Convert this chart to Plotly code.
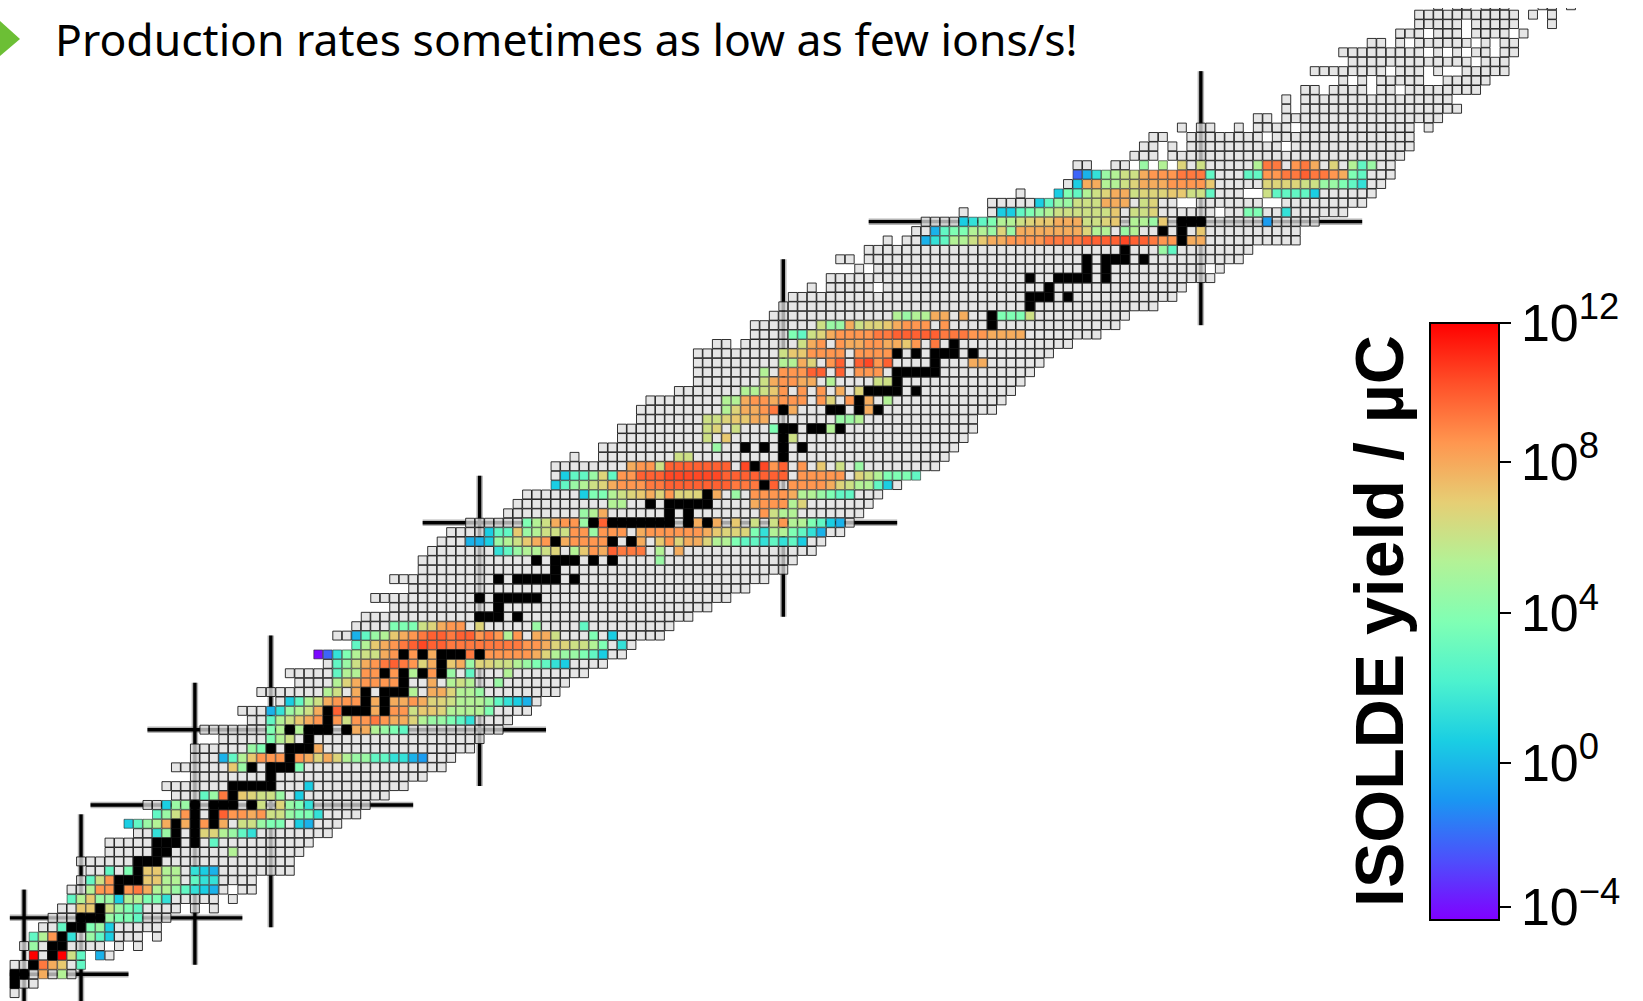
import plotly.graph_objects as go

W, H = 1643, 1001

# First and last neutron number N of each row, index = proton number Z (0..105)
FIRST_N = [1,1,1,1,3,2,3,4,5,6,7,7,8,9,8,11,11,14,13,16,15,18,17,20,18,20,20,23,21,26,25,29,27,31,30,34,33,37,35,37,38,41,39,43,41,44,44,45,46,47,49,53,54,55,58,58,58,60,63,65,65,67,67,68,71,73,73,73,73,75,79,79,81,82,83,85,87,90,88,91,93,96,97,101,104,107,112,113,113,119,120,121,124,132,135,135,137,141,138,142,141,144,147,149,149,151]
LAST_N = [1,3,7,8,11,14,16,16,17,22,24,26,26,30,30,31,32,34,35,37,38,40,42,44,46,47,49,50,52,53,55,56,58,59,61,63,65,66,69,70,72,74,76,78,80,82,83,85,86,88,89,90,91,92,94,96,98,99,100,101,102,102,104,105,106,107,108,109,110,112,115,117,118,121,123,124,127,128,130,131,136,136,138,141,143,144,145,146,146,147,148,148,150,151,153,152,155,156,158,158,159,159,160,163,163,165]

# log10(yield) per letter; '.' no yield (grey), '#' stable (black), ' ' no nuclide
YIELD_LEVEL = dict(v=-4.2, B=-2.2, b=-0.9, e=-0.25, c=0.55, d=1.4, m=2.85, n=3.8, g=4.65, y=5.46,
                   k=6.3, h=6.8, q=7.25, p=8.1, o=8.7, s=9.4, t=9.95, u=10.5, R=12)

# Z -> {first N of the run: letters}
MARKS = {
 1:{1:"#"}, 2:{1:"##.p.y."}, 3:{1:"..#spq.m"}, 4:{3:"R.#Rkm e."}, 5:{2:".g.##.... . ."},
 6:{3:"myo#d.gmc... ."}, 7:{4:"..m##ngc"}, 8:{5:"...###gnnm"}, 9:{6:"..qq#kgnm.... . ."},
 10:{7:"myqggcyynnd..... ."}, 11:{7:"..yoo#ospyygmdce. ."}, 12:{8:".mko###qqyy.mdd"},
 13:{9:"..m.n#qqyy.dce"}, 14:{14:"###"}, 15:{16:"##",24:"y"}, 16:{16:"###.#.m"},
 17:{14:"..dg#.#hhygmd"}, 18:{13:"cmgyp#p#o#p.kkgnn.ce"}, 19:{16:"mgko#.#toopokkgnnd"},
 20:{15:"..cgg#.###.#k.hgnd"}, 21:{18:"...mgs#qhkkg.c"}, 22:{24:"#####",32:"c"}, 23:{28:"#"},
 24:{24:"qg#.###n"}, 25:{23:"emyqooo#ophphyggmmddeb"}, 26:{26:"gn#.###p"}, 27:{28:"nyk.#"},
 28:{28:"ny#y###.#ppygnm"}, 29:{28:"mykqpo#okoosopphyggnmd"}, 30:{28:"edgykp#t###p#ookqqhyyyyn"},
 31:{30:"cmykpooo#p#ppophhkyyygmdce"}, 32:{34:"yk.p#.###y.pphyyg"}, 33:{35:"yhpoooo#..p.yky..g"},
 34:{35:"myyoo#o#y#o#g.m...y"}, 35:{35:"mgkpostsohp#qpghhkkygnmdc"},
 36:{33:"vBdnykkpo#o#p###s#ooooophyggnmc"}, 37:{37:"myqpostuttssssssssoophhkkyn.d."},
 38:{37:"emgyqposttsttosoyo.ppk...n.c"}, 39:{41:"nnnkhpoo.h",56:"g",61:"m"},
 40:{50:"###.#"}, 41:{52:"#"}, 42:{50:"#.#####"}, 44:{52:"#.#####.#"}, 45:{58:"#"},
 46:{56:"#.###.#.#",69:"g"}, 47:{52:"dmgyykh.yqoptsss.y.p"},
 48:{49:"eecgykqpo#poooo#.#p.qohpphyynmmdmdmc"},
 49:{51:"cmmqgykkkoogooo.poooooopqhhhndyynmde"},
 50:{55:"nykpoog#t#######.#p#p.q.k.koyynmce"},
 51:{61:"gyp",70:"#.#",80:"okyy"}, 52:{64:"yy..#.#####",79:"poooyh"},
 53:{61:"cnnykhqphohhh#p.g.oooopyygnmm"},
 54:{58:"cmgykhpoooss"+"ttttttt"+"sss#t.oooop"+"hkyymc"},
 55:{58:".cmmghmoo"+"ttt"+"uuuuuu"+"ttttttt"+".ooooo.hkynnnm"},
 56:{66:"pookttttttt.u#uot.o.q.k.g"}, 57:{61:"  ",71:"kk",82:"#"},
 58:{75:"g",78:"#.#.#.#"}, 59:{74:"k.q",82:"#k"}, 60:{74:"kh.k",81:"n##.##y#"},
 61:{74:"kkhqqpp",88:"ggy"}, 62:{76:"yhppos#p",87:"##.#p#"}, 63:{76:"yypoopooo.oh.o#p.y"},
 64:{78:"yykqo.o.o.p.h####.#"}, 65:{80:"kpoopp.y",92:"kk#"}, 66:{80:"y.ooott.t.ooo.#####"},
 67:{82:"yyph.ot.tuot",98:"#",102:"pp"}, 68:{82:"kqqoooo.oooo#.#.###.#"},
 69:{77:" ",84:"kpo.oppooppqo.s.#"}, 70:{83:"nmkhpoooosstttttsssoopppp"},
 71:{86:"kggpkhhqpooo.o",104:"#"}, 72:{94:"ygyypp.p..#nnnk"}, 73:{108:"#"}, 74:{108:"###.#"},
 75:{86:" ",92:" ",110:"#"}, 76:{108:"#..####.#"}, 77:{91:" ",114:"#",116:"#",127:" "},
 78:{90:" ",114:"#",116:"###.#"}, 79:{118:"#",122:"gm"},
 80:{94:" ",97:"edmyykqppoooossssttttuttsoo#pp"},
 81:{98:"emnnyyghgppppppphyy.gy..#.#.q"},
 82:{101:"cdmnyykhqqpppkkhq.yygq.###",133:"b"},
 83:{102:"  ",105:"ccmngykkkkkkq.kkh",128:" ",131:"nn",135:"d"},
 84:{109:"cmggkkkppp.kh",124:"  ",133:"  "},
 85:{108:"   ",111:"cnmykhppkhhhqqkkm",131:"  ",133:"kmmmmc"},
 86:{113:"cppyykhpppooooq",133:"hhhhkkggnmd"},
 87:{113:"Bedgykkpooosssm",131:"mmoosstssopnm"},
 88:{115:"  .. g y h.k",132:"yss.osp.h.ymg"},
 89:{122:" "}, 90:{122:" ",124:" ",135:" "}, 91:{123:"  ",133:" "},
 92:{125:" ",128:"  ",131:" ",136:" ",149:" "}, 93:{134:" "}, 94:{136:" "}, 95:{136:" "},
 96:{139:" ",144:" ",147:" "}, 97:{142:" ",144:" ",150:"  "}, 98:{146:" ",150:" ",152:"  "},
 99:{155:" "}, 100:{150:" ",152:" ",154:" ",157:" "}, 101:{146:" ",148:" ",155:" ",157:" "},
 102:{150:" ",154:" ",159:" "}, 103:{154:" ",160:"   "}, 104:{160:" ",162:" "},
 105:{152:" ",155:" ",159:"   ",164:" "},
}

# Magic numbers: line along the chart, (value, from, to)
MAGIC_N = [(2,-1,11),(8,-1,19),(20,3,33),(28,7,38),(50,22,55),(82,40,78),(126,71,98)]
MAGIC_Z = [(2,0.5,13),(8,0.5,25),(20,9,43),(28,15,57),(50,44,94),(82,91,143)]

CBAR_TICKS = [-4, -0.05, 4.05, 8.2, 12]
CBAR_LABELS = ["10<sup>\u22124</sup>", "10<sup>0</sup>", "10<sup>4</sup>", "10<sup>8</sup>", "10<sup>12</sup>"]
RAINBOW = [[0,"#8000ff"],[.1,"#4d4ffc"],[.2,"#1a96f2"],[.3,"#1acee3"],[.4,"#4df2ce"],[.5,"#80ffb4"],
           [.6,"#b3f296"],[.7,"#e6ce74"],[.8,"#ff964f"],[.9,"#ff4f28"],[1,"#ff0000"]]

gx, gy, bx, by, cx, cy, cv = [], [], [], [], [], [], []
for z, (lo, hi) in enumerate(zip(FIRST_N, LAST_N)):
    chars = {}
    for start, run in MARKS.get(z, {}).items():
        for i, ch in enumerate(run):
            chars[start + i] = ch
    for n in range(lo, hi + 1):
        ch = chars.get(n, ".")
        if ch == " ":
            continue
        if ch == ".":
            gx.append(n); gy.append(z)
        elif ch == "#":
            bx.append(n); by.append(z)
        else:
            cx.append(n); cy.append(z); cv.append(YIELD_LEVEL[ch])

fig = go.Figure()
for width, color in [(6.5, "rgba(120,120,120,0.55)"), (3.4, "black")]:
    for n, a, b in MAGIC_N:
        fig.add_trace(go.Scatter(x=[n, n], y=[a, b], mode="lines", line=dict(color=color, width=width), hoverinfo="skip"))
    for z, a, b in MAGIC_Z:
        fig.add_trace(go.Scatter(x=[a, b], y=[z, z], mode="lines", line=dict(color=color, width=width), hoverinfo="skip"))

SIZE = 8.9
fig.add_trace(go.Scatter(x=gx, y=gy, mode="markers", hoverinfo="skip",
    marker=dict(symbol="square", size=SIZE, color="rgba(222,222,222,0.75)", line=dict(color="rgba(15,15,15,0.85)", width=1))))
fig.add_trace(go.Scatter(x=cx, y=cy, mode="markers", hoverinfo="skip",
    marker=dict(symbol="square", size=SIZE, color=cv, colorscale=RAINBOW, cmin=-4.35, cmax=12,
                line=dict(color="rgba(40,40,40,0.6)", width=1),
                colorbar=dict(x=1430/W, xanchor="left", y=1-323/H, yanchor="top",
                              len=597, lenmode="pixels", thickness=69, thicknessmode="pixels",
                              xpad=0, ypad=0, outlinecolor="black", outlinewidth=2,
                              ticks="outside", ticklen=11, tickwidth=1.5, tickcolor="black",
                              tickvals=CBAR_TICKS, ticktext=CBAR_LABELS,
                              tickfont=dict(family="Liberation Sans", size=52, color="black")))))
fig.add_trace(go.Scatter(x=bx, y=by, mode="markers", hoverinfo="skip",
    marker=dict(symbol="square", size=9.4, color="black", line=dict(color="black", width=0.6))))

fig.add_annotation(text="Production rates sometimes as low as few ions/s!", xref="paper", yref="paper",
                   x=53/W, y=1-38/H, xanchor="left", yanchor="middle", showarrow=False,
                   font=dict(family="Noto Sans", size=44.5, color="black"))
fig.add_annotation(text="<b>ISOLDE yield / \u00b5C</b>", xref="paper", yref="paper", textangle=-90,
                   x=1379/W, y=1-621/H, xanchor="center", yanchor="middle", showarrow=False,
                   font=dict(family="Liberation Sans", size=68, color="black"))
fig.add_shape(type="path", xref="paper", yref="paper", line_width=0, fillcolor="#6cbf35",
              path=f"M 0 {1-21/H} L {20/W} {1-39/H} L 0 {1-56/H} Z")

fig.update_layout(width=W, height=H, margin=dict(l=0, r=0, t=0, b=0), showlegend=False,
                  paper_bgcolor="white", plot_bgcolor="white",
                  xaxis=dict(visible=False, range=[-0.537, 172.59], domain=[0, 1]),
                  yaxis=dict(visible=False, range=[-0.84, 104.71], domain=[0, 993/H]))
fig.write_html("out.html", config={"displayModeBar": False}, post_script="document.body.style.margin='0';")
